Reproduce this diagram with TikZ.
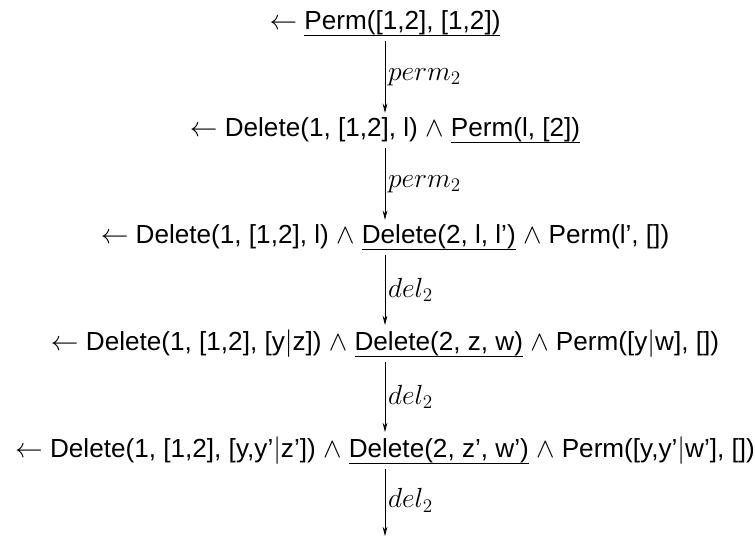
\documentclass[tikz,border=0pt]{standalone}
\usepackage{fontspec}
\setmainfont{Liberation Sans}
\usetikzlibrary{arrows.meta}
% underline the selected subgoal of a resolvent
\newcommand\selgoal[1]{\leavevmode\setbox0\hbox{#1}\rlap{\vrule width \wd0 height -4.6pt depth 5.6pt}\box0\relax}
\begin{document}
\begin{tikzpicture}[x=0.75pt,y=-0.75pt,
  goal/.style={anchor=base, inner sep=0pt, font=\fontsize{19.6}{22}\selectfont},
  derive/.style={-{Stealth[length=7pt,width=3.6pt]}, line width=0.6pt,
                 shorten <=3.5pt, shorten >=3pt},
  rulename/.style={right, inner sep=2pt, font=\fontsize{20}{24}\selectfont}]
\useasboundingbox (0,0) rectangle (755,540);

\node[goal] (r1) at (385,29)  {$\leftarrow$ \selgoal{Perm([1,2], [1,2])}};
\node[goal] (r2) at (385,136) {$\leftarrow$ Delete(1, [1,2], l) $\wedge$ \selgoal{Perm(l, [2])}};
\node[goal] (r3) at (385,243) {$\leftarrow$ Delete(1, [1,2], l) $\wedge$ \selgoal{Delete(2, l, l’)} $\wedge$ Perm(l’, [])};
\node[goal] (r4) at (385,350) {$\leftarrow$ Delete(1, [1,2], [y$|$z]) $\wedge$ \selgoal{Delete(2, z, w)} $\wedge$ Perm([y$|$w], [])};
\node[goal] (r5) at (385,457) {$\leftarrow$ Delete(1, [1,2], [y,y’$|$z’]) $\wedge$ \selgoal{Delete(2, z’, w’)} $\wedge$ Perm([y,y’$|$w’], [])};
\coordinate (r6) at (385,536);

\draw[derive] (r1) -- node[rulename] {$perm_2$} (r2);
\draw[derive] (r2) -- node[rulename] {$perm_2$} (r3);
\draw[derive] (r3) -- node[rulename] {$del_2$} (r4);
\draw[derive] (r4) -- node[rulename] {$del_2$} (r5);
\draw[derive, shorten >=0pt] (r5) -- node[rulename] {$del_2$} (r6);
\end{tikzpicture}
\end{document}
